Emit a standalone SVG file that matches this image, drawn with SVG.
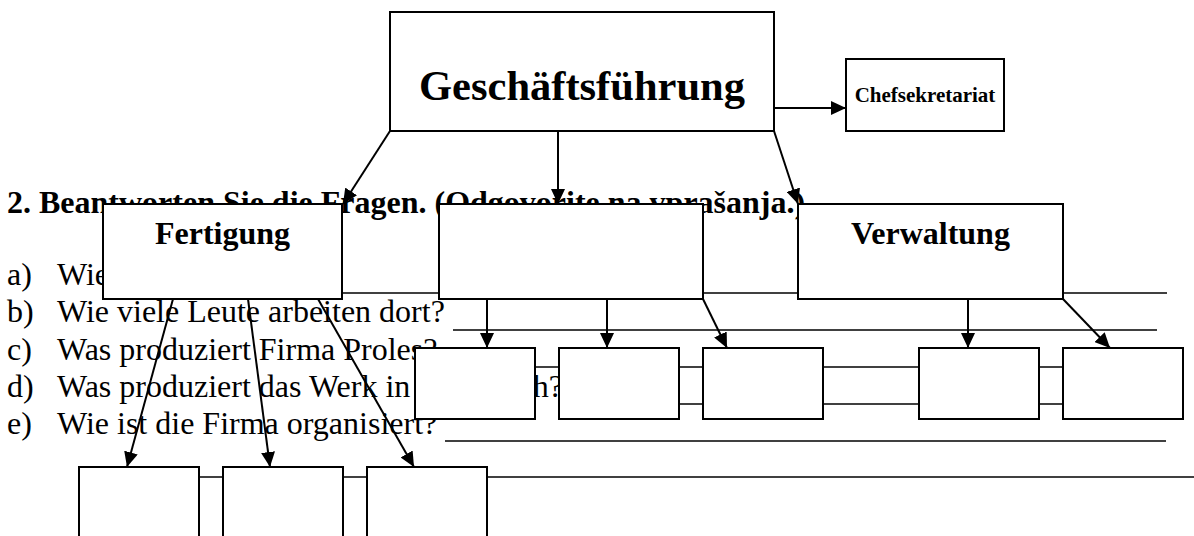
<svg xmlns="http://www.w3.org/2000/svg" width="1194" height="536" viewBox="0 0 1194 536">
<style>
.q{font-family:"Liberation Serif","Times New Roman",serif;font-size:32px;fill:#000}
.t{font-family:"Liberation Serif","Times New Roman",serif;font-weight:bold;fill:#000}
.box{fill:#fff;stroke:#000;stroke-width:2}
.ul{stroke:#000;stroke-width:1.3;fill:none}
.conn{stroke:#000;stroke-width:2;fill:none;marker-end:url(#ah)}
</style>
<defs>
<marker id="ah" markerUnits="userSpaceOnUse" viewBox="0 0 15 14" refX="15" refY="7" markerWidth="15" markerHeight="14" orient="auto">
<path d="M0,0 L15,7 L0,14 z" fill="#000"/>
</marker>
</defs>
<rect width="1194" height="536" fill="#fff"/>
<g id="questions">
<text class="t" x="7" y="213" font-size="32">2. Beantworten Sie die Fragen. (Odgovorite na vprašanja.)</text>
<text class="q" x="7" y="285">a)</text><text class="q" x="57" y="285">Wie</text>
<text class="q" x="7" y="322">b)</text><text class="q" x="57" y="322">Wie viele Leute arbeiten dort?</text>
<text class="q" x="7" y="360">c)</text><text class="q" x="57" y="360">Was produziert Firma Proles?</text>
<text class="q" x="7" y="397">d)</text><text class="q" x="57" y="397">Was produziert das Werk in</text><text class="q" x="563" y="397" text-anchor="end">ch?</text>
<text class="q" x="7" y="434">e)</text><text class="q" x="57" y="434">Wie ist die Firma organisiert?</text>
</g>
<g id="answer-lines">
<line class="ul" x1="330" y1="293" x2="1167" y2="293"/>
<line class="ul" x1="453" y1="330" x2="1157" y2="330"/>
<line class="ul" x1="450" y1="367" x2="1166" y2="367"/>
<line class="ul" x1="566" y1="404" x2="1166" y2="404"/>
<line class="ul" x1="445" y1="441" x2="1166" y2="441"/>
<line class="ul" x1="100" y1="477" x2="1194" y2="477"/>
</g>
<g id="n-gf"><rect class="box" x="390" y="12" width="384" height="119"/><text class="t" x="582" y="100" font-size="42.5" text-anchor="middle">Geschäftsführung</text></g>
<g id="n-chef"><rect class="box" x="846" y="59" width="158" height="72"/><text class="t" x="925" y="102" font-size="21" text-anchor="middle">Chefsekretariat</text></g>
<g id="n-fert"><rect class="box" x="103" y="204" width="239" height="95"/><text class="t" x="222.5" y="244" font-size="32" text-anchor="middle">Fertigung</text></g>
<g id="n-mid"><rect class="box" x="439" y="204" width="264" height="95"/></g>
<g id="n-verw"><rect class="box" x="798" y="204" width="265" height="95"/><text class="t" x="930.5" y="244" font-size="32" text-anchor="middle">Verwaltung</text></g>
<g id="n-m1"><rect class="box" x="415" y="348" width="120" height="71"/></g>
<g id="n-m2"><rect class="box" x="559" y="348" width="120" height="71"/></g>
<g id="n-m3"><rect class="box" x="703" y="348" width="120" height="71"/></g>
<g id="n-m4"><rect class="box" x="919" y="348" width="120" height="71"/></g>
<g id="n-m5"><rect class="box" x="1063" y="348" width="120" height="71"/></g>
<g id="n-b1"><rect class="box" x="79" y="467" width="120" height="80"/></g>
<g id="n-b2"><rect class="box" x="223" y="467" width="120" height="80"/></g>
<g id="n-b3"><rect class="box" x="367" y="467" width="120" height="80"/></g>
<g id="connectors">
<line class="conn" x1="774" y1="108" x2="846" y2="108"/>
<line class="conn" x1="390" y1="131" x2="343" y2="204"/>
<line class="conn" x1="558" y1="131" x2="558" y2="204"/>
<line class="conn" x1="774" y1="131" x2="798" y2="204"/>
<line class="conn" x1="173" y1="299" x2="127" y2="467"/>
<line class="conn" x1="248" y1="299" x2="270" y2="467"/>
<line class="conn" x1="318" y1="299" x2="414" y2="467"/>
<line class="conn" x1="487" y1="299" x2="487" y2="348"/>
<line class="conn" x1="607" y1="299" x2="607" y2="348"/>
<line class="conn" x1="703" y1="299" x2="727" y2="348"/>
<line class="conn" x1="968" y1="299" x2="968" y2="348"/>
<line class="conn" x1="1063" y1="299" x2="1110" y2="348"/>
</g>
</svg>
